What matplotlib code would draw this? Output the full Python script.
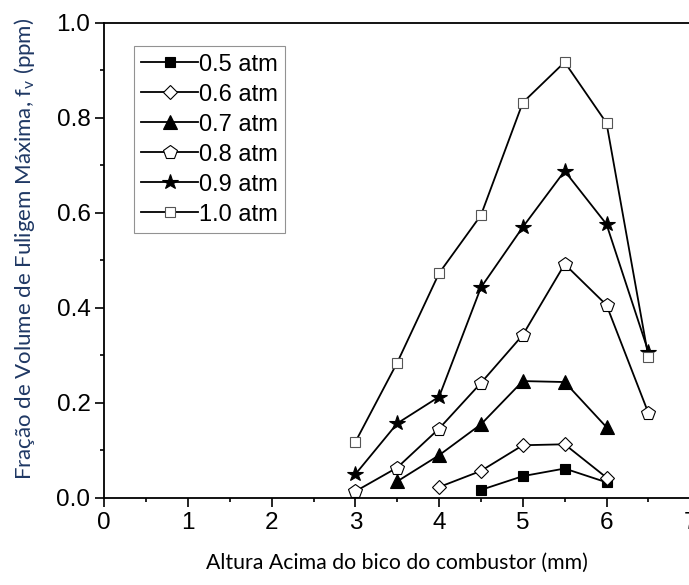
import matplotlib
matplotlib.use("Agg")
import matplotlib.pyplot as plt
from matplotlib.ticker import MultipleLocator

# ---- data ----
x_05 = [4.5, 5.0, 5.5, 6.0]
y_05 = [0.017, 0.046, 0.062, 0.033]

x_06 = [4.0, 4.5, 5.0, 5.5, 6.0]
y_06 = [0.023, 0.057, 0.111, 0.113, 0.043]

x_07 = [3.5, 4.0, 4.5, 5.0, 5.5, 6.0]
y_07 = [0.035, 0.090, 0.155, 0.246, 0.244, 0.149]

x_08 = [3.0, 3.5, 4.0, 4.5, 5.0, 5.5, 6.0, 6.5]
y_08 = [0.014, 0.064, 0.146, 0.242, 0.343, 0.492, 0.406, 0.179]

x_09 = [3.0, 3.5, 4.0, 4.5, 5.0, 5.5, 6.0, 6.5]
y_09 = [0.050, 0.157, 0.213, 0.443, 0.570, 0.688, 0.576, 0.308]

x_10 = [3.0, 3.5, 4.0, 4.5, 5.0, 5.5, 6.0, 6.5]
y_10 = [0.118, 0.285, 0.473, 0.595, 0.832, 0.917, 0.789, 0.297]

labels = ["0.5 atm", "0.6 atm", "0.7 atm", "0.8 atm", "0.9 atm", "1.0 atm"]
xticks = [0, 1, 2, 3, 4, 5, 6, 7]
yticks = [0.0, 0.2, 0.4, 0.6, 0.8, 1.0]

plt.rcParams['font.family'] = ['Liberation Sans', 'DejaVu Sans']
plt.rcParams['mathtext.fontset'] = 'custom'
plt.rcParams['mathtext.rm'] = 'Lato'

fig = plt.figure(figsize=(6.89, 5.85), dpi=100)
ax = fig.add_axes([104.3 / 689, 87.0 / 585, (690.2 - 104.3) / 689, (498.0 - 22.7) / 585])

lw = 1.3
styles = [
    dict(marker='s', ms=7.5, mfc='black', mec='black'),
    dict(marker='D', ms=7.5, mfc='white', mec='black'),
    dict(marker='^', ms=9.5, mfc='black', mec='black'),
    dict(marker='p', ms=10, mfc='white', mec='black'),
    dict(marker='*', ms=11.5, mfc='black', mec='black'),
    dict(marker='s', ms=7.5, mfc='white', mec='#555555'),
]
series = [(x_05, y_05), (x_06, y_06), (x_07, y_07), (x_08, y_08), (x_09, y_09), (x_10, y_10)]
for (xs, ys), lab, st in zip(series, labels, styles):
    ax.plot(xs, ys, color='black', lw=lw, label=lab, mew=0.8, **st)

ax.set_xlim(0, 7)
ax.set_ylim(0, 1.0)
ax.set_xticks(xticks)
ax.set_yticks(yticks)
ax.set_yticklabels([f"{v:.1f}" for v in yticks])
ax.xaxis.set_minor_locator(MultipleLocator(0.5))
ax.yaxis.set_minor_locator(MultipleLocator(0.1))
ax.tick_params(which='major', direction='out', length=6.5, width=1.2, labelsize=17.5, pad=3.5)
ax.tick_params(which='minor', direction='out', length=3, width=1.2)
for s in ax.spines.values():
    s.set_linewidth(1.3)

ax.set_xlabel("Altura Acima do bico do combustor (mm)", family=['Lato', 'DejaVu Sans'],
              fontsize=15.3, labelpad=14)
ax.set_ylabel("Fração de Volume de Fuligem Máxima, f$_\\mathrm{v}$ (ppm)",
              family=['Lato', 'DejaVu Sans'], fontsize=16, color='#1f3864', labelpad=8)
ax.yaxis.set_label_coords(-0.115, 0.525)

leg = ax.legend(loc='upper left', bbox_to_anchor=(0.051, 0.95), fontsize=17,
                frameon=True, fancybox=False, edgecolor='#777777', handlelength=2.4,
                handletextpad=0.03, labelspacing=0.34, borderpad=0.3, borderaxespad=0)
leg.get_frame().set_linewidth(0.8)

fig.savefig("out.png", dpi=100)
